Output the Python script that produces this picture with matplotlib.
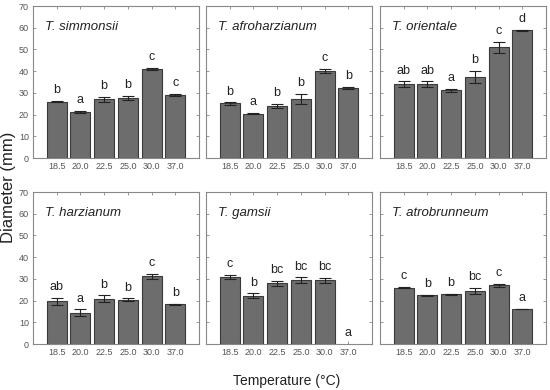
import numpy as np
import matplotlib
matplotlib.use("Agg")
import matplotlib.pyplot as plt

plt.rcParams['font.family'] = ['Liberation Sans', 'DejaVu Sans']

temps = ['18.5', '20.0', '22.5', '25.0', '30.0', '37.0']

species = ['T. simmonsii', 'T. afroharzianum', 'T. orientale',
           'T. harzianum', 'T. gamsii', 'T. atrobrunneum']

simmonsii = [26.0, 21.1, 27.0, 27.5, 41.0, 28.9]
simmonsii_err = [0.4, 0.5, 1.0, 1.0, 0.5, 0.5]
simmonsii_let = ['b', 'a', 'b', 'b', 'c', 'c']

afroharzianum = [25.1, 20.4, 24.0, 27.2, 40.2, 32.2]
afroharzianum_err = [0.5, 0.2, 1.0, 2.5, 1.0, 0.5]
afroharzianum_let = ['b', 'a', 'b', 'b', 'c', 'b']

orientale = [34.0, 34.0, 31.2, 37.3, 51.0, 58.8]
orientale_err = [1.3, 1.3, 0.8, 2.8, 2.5, 0.1]
orientale_let = ['ab', 'ab', 'a', 'b', 'c', 'd']

harzianum = [19.6, 14.4, 20.9, 20.4, 31.1, 18.2]
harzianum_err = [1.5, 1.5, 1.5, 0.6, 1.2, 0.3]
harzianum_let = ['ab', 'a', 'b', 'b', 'c', 'b']

gamsii = [30.8, 22.3, 27.9, 29.5, 29.3, 0.0]
gamsii_err = [1.0, 1.0, 1.3, 1.2, 1.3, 0.0]
gamsii_let = ['c', 'b', 'bc', 'bc', 'bc', 'a']

atrobrunneum = [26.0, 22.5, 22.8, 24.4, 27.0, 16.1]
atrobrunneum_err = [0.4, 0.2, 0.4, 1.4, 0.7, 0.1]
atrobrunneum_let = ['c', 'b', 'b', 'bc', 'c', 'a']

vals = [simmonsii, afroharzianum, orientale, harzianum, gamsii, atrobrunneum]
errs = [simmonsii_err, afroharzianum_err, orientale_err,
        harzianum_err, gamsii_err, atrobrunneum_err]
lets = [simmonsii_let, afroharzianum_let, orientale_let,
        harzianum_let, gamsii_let, atrobrunneum_let]

fig = plt.figure(figsize=(5.5, 3.9), dpi=100)
W, H = 550, 390
lefts = [33, 206, 380]
bottoms = [390 - 158, 390 - 344]
pw, ph = 166, 152

x = np.arange(len(temps))
for i in range(6):
    r, c = divmod(i, 3)
    ax = fig.add_axes([lefts[c] / W, bottoms[r] / H, pw / W, ph / H])
    v = np.array(vals[i])
    e = np.array(errs[i])
    lw = [0.8 if h > 0 else 0 for h in v]
    ax.bar(x, v, width=0.84, color='#6d6d6d', edgecolor='#3a3a3a', linewidth=lw, zorder=2)
    ok = v > 0
    ax.errorbar(x[ok], v[ok], yerr=e[ok], fmt='none', ecolor='#222222', elinewidth=0.8,
                capsize=4, capthick=0.8, zorder=3)
    for xi, yi, ei, lt in zip(x, v, e, lets[i]):
        ax.text(xi, yi + ei + 2.2, lt, ha='center', va='bottom', fontsize=9, color='#222222')
    ax.text(0.075, 0.86, species[i], transform=ax.transAxes, fontsize=9.5,
            style='italic', color='#222222', va='center')
    ax.set_xlim(-1, 6)
    ax.set_ylim(0, 70)
    ax.set_xticks(x)
    ax.set_xticklabels(temps, fontsize=6.5, color='#555555')
    ax.set_yticks(np.arange(0, 71, 10))
    if c == 0:
        ax.set_yticklabels([str(t) for t in range(0, 71, 10)], fontsize=6.5, color='#555555')
    else:
        ax.set_yticklabels([])
    ax.tick_params(direction='in', top=True, right=True, length=2.5, width=0.6,
                   color='#888888', pad=3)
    for s in ax.spines.values():
        s.set_color('#888888')
        s.set_linewidth(0.8)

fig.text(9 / W, 1 - 187 / H, 'Diameter (mm)', rotation=90, ha='center', va='center',
         fontsize=12, color='#222222')
fig.text(287 / W, 1 - 381 / H, 'Temperature (°C)', ha='center', va='center',
         fontsize=10, color='#222222')

fig.savefig('out.png', dpi=100)
